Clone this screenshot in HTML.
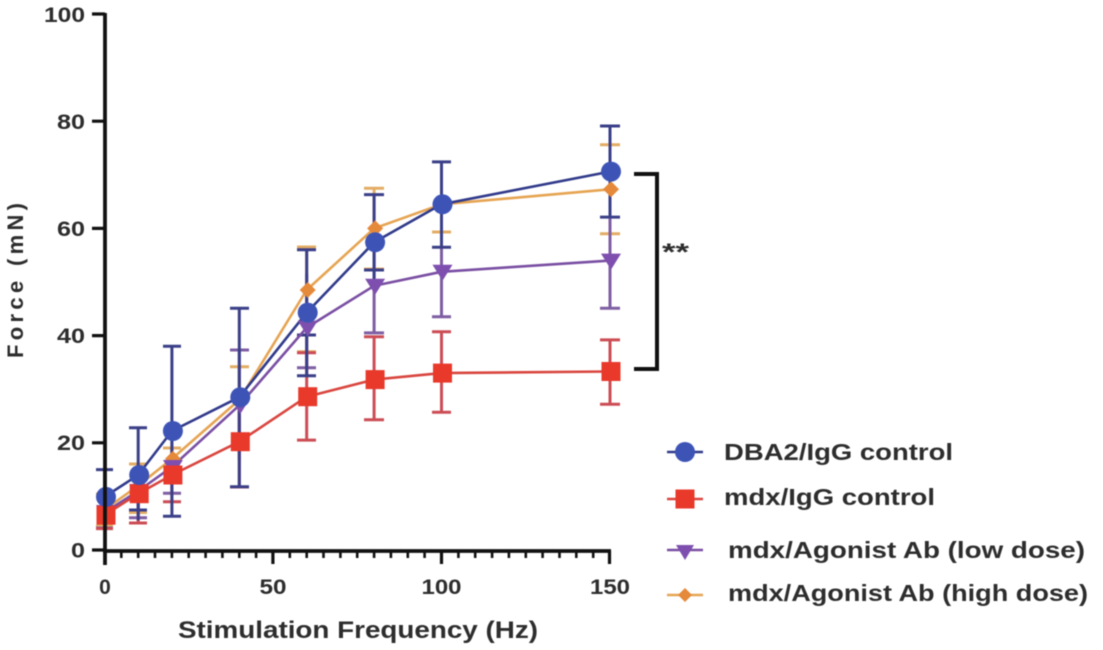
<!DOCTYPE html>
<html>
<head>
<meta charset="utf-8">
<style>
  html,body{margin:0;padding:0;background:#fff;}
  svg{display:block;filter:blur(0.5px);}
  text{font-family:"Liberation Sans",Arial,sans-serif;font-weight:bold;fill:#2d2d2d;}
</style>
</head>
<body>
<svg width="1103" height="650" viewBox="0 0 1103 650" xmlns="http://www.w3.org/2000/svg">
  <rect width="1103" height="650" fill="#fff"/>

  <!-- Error bars -->
  <g stroke-width="3" fill="none">
    <!-- Orange (high dose) -->
    <g stroke="#e3ad66">
      <path d="M104.5,494 V526 M96,494 H113 M96,526 H113"/>
      <path d="M138.2,464 V512.5 M129,464 H147 M129,512.5 H147"/>
      <path d="M171.9,448 V480 M163,448 H181"/>
      <path d="M239.3,366.7 V437 M230,366.7 H249"/>
      <path d="M306.7,247 V351.7 M297,247 H316 M297,351.7 H316"/>
      <path d="M374.1,188.2 V269 M364,188.2 H384 M364,269 H384"/>
      <path d="M441.5,164 V232 M432,232 H451"/>
      <path d="M610,144.8 V233.8 M600,144.8 H620 M600,233.8 H620"/>
    </g>
    <!-- Purple (low dose) -->
    <g stroke="#7d5ea3">
      <path d="M104.5,496 V528 M96,528 H113"/>
      <path d="M138.2,464 V517.8 M129,517.8 H147"/>
      <path d="M171.9,440 V493.2 M163,493.2 H181"/>
      <path d="M239.3,350 V460 M230,350 H249"/>
      <path d="M306.7,274 V367.8 M297,367.8 H316"/>
      <path d="M374.1,240 V332.9 M364,332.9 H384"/>
      <path d="M441.5,225.7 V316.8 M432,316.8 H451"/>
      <path d="M610,212.3 V308.3 M600,308.3 H620"/>
    </g>
    <!-- Red (mdx/IgG) -->
    <g stroke="#cc4d55">
      <path d="M104.5,501.8 V528.6 M96,528.6 H113"/>
      <path d="M138.2,466.9 V523 M129,523 H147"/>
      <path d="M171.9,448 V501.8 M163,501.8 H181"/>
      <path d="M239.3,400 V487 M230,487 H249"/>
      <path d="M306.7,352.8 V440.1 M297,352.8 H316 M297,440.1 H316"/>
      <path d="M374.1,336.7 V419.8 M364,336.7 H384 M364,419.8 H384"/>
      <path d="M441.5,331.8 V412.2 M432,331.8 H451 M432,412.2 H451"/>
      <path d="M610,339.9 V404.2 M600,339.9 H620 M600,404.2 H620"/>
    </g>
    <!-- Blue (DBA2) -->
    <g stroke="#3a3f88">
      <path d="M104.5,469.6 V523.2 M96,469.6 H113"/>
      <path d="M138.2,427.8 V520.5 M129,427.8 H147 M129,510 H147"/>
      <path d="M171.9,346.3 V516.2 M163,346.3 H181 M163,516.2 H181"/>
      <path d="M239.3,308.3 V486.8 M230,308.3 H249 M230,486.8 H249"/>
      <path d="M306.7,249.8 V375.8 M297,249.8 H316 M297,375.8 H316 M297,335 H316"/>
      <path d="M374.1,194.6 V290 M364,194.6 H384 M364,270 H384"/>
      <path d="M441.5,161.9 V247.2 M432,161.9 H451 M432,247.2 H451"/>
      <path d="M610,126 V217.1 M600,126 H620 M600,217.1 H620"/>
    </g>
  </g>

  <!-- Series lines -->
  <g fill="none" stroke-width="2.6" stroke-linejoin="round">
    <polyline stroke="#e6a452" points="104.5,509.8 138.2,485.7 171.9,458.9 239.3,399.9 306.7,290 374.1,228.4 441.5,204.3 610,189.3"/>
    <polyline stroke="#7a4fa3" points="104.5,512.5 138.2,491 171.9,466.9 239.3,405.3 306.7,327.6 374.1,285.8 441.5,271.8 610,260.6"/>
    <polyline stroke="#d9463f" points="104.5,515.2 138.2,493.7 171.9,475 239.3,441.7 306.7,396.7 374.1,379.6 441.5,373.1 610,371.5"/>
    <polyline stroke="#303a8a" points="104.5,496.9 138.2,475 171.9,431 239.3,397.2 306.7,312.6 374.1,242.3 441.5,204.3 610,171.6"/>
  </g>

  <!-- Markers: orange diamonds -->
  <g fill="#e5893a">
    <path d="M106,502 l8,8 l-8,8 l-8,-8z"/>
    <path d="M139.2,477.7 l8,8 l-8,8 l-8,-8z"/>
    <path d="M172.9,450.9 l8,8 l-8,8 l-8,-8z"/>
    <path d="M240.3,391.9 l8,8 l-8,8 l-8,-8z"/>
    <path d="M307.7,282 l8,8 l-8,8 l-8,-8z"/>
    <path d="M375.1,220.4 l8,8 l-8,8 l-8,-8z"/>
    <path d="M442.5,196.3 l8,8 l-8,8 l-8,-8z"/>
    <path d="M611,181.3 l8,8 l-8,8 l-8,-8z"/>
  </g>
  <!-- Purple triangles (down) -->
  <g fill="#7e4fae">
    <path d="M96,505 h20 l-10,16z"/>
    <path d="M129.2,484 h20 l-10,16z"/>
    <path d="M162.9,460 h20 l-10,16z"/>
    <path d="M230.3,398 h20 l-10,16z"/>
    <path d="M297.7,320.6 h20 l-10,16z"/>
    <path d="M365.1,278.8 h20 l-10,16z"/>
    <path d="M432.5,264.8 h20 l-10,16z"/>
    <path d="M601,253.6 h20 l-10,16z"/>
  </g>
  <!-- Red squares -->
  <g fill="#e8392a">
    <rect x="96.5" y="505.7" width="19" height="19"/>
    <rect x="129.7" y="484.2" width="19" height="19"/>
    <rect x="163.4" y="465.5" width="19" height="19"/>
    <rect x="230.8" y="432.2" width="19" height="19"/>
    <rect x="298.2" y="387.2" width="19" height="19"/>
    <rect x="365.6" y="370.1" width="19" height="19"/>
    <rect x="433" y="363.6" width="19" height="19"/>
    <rect x="601.5" y="362" width="19" height="19"/>
  </g>
  <!-- Blue circles -->
  <g fill="#3d54b6">
    <circle cx="106" cy="496.9" r="10"/>
    <circle cx="139.2" cy="475" r="10"/>
    <circle cx="172.9" cy="431" r="10"/>
    <circle cx="240.3" cy="397.2" r="10"/>
    <circle cx="307.7" cy="312.6" r="10"/>
    <circle cx="375.1" cy="242.3" r="10"/>
    <circle cx="442.5" cy="204.3" r="10"/>
    <circle cx="611" cy="171.6" r="10"/>
  </g>

  <!-- Axes -->
  <g stroke="#111" fill="none">
    <line x1="105" y1="13" x2="105" y2="565" stroke-width="3.8"/>
    <line x1="103" y1="551" x2="611" y2="551" stroke-width="3.8"/>
    <path stroke-width="3.2" d="M92,14 H105 M92,121.2 H105 M92,228.4 H105 M92,335.6 H105 M92,442.8 H105 M92,550 H105"/>
    <path stroke-width="3.2" d="M272.9,551 V564 M441.5,551 V564 M609.5,551 V564"/>
    <path stroke-width="2.6" d="M121.3,551 V558 M138.2,551 V558 M155,551 V558 M171.9,551 V558 M188.7,551 V558 M205.6,551 V558 M222.4,551 V558 M239.3,551 V558 M256.1,551 V558
      M289.8,551 V558 M306.7,551 V558 M323.5,551 V558 M340.4,551 V558 M357.2,551 V558 M374.1,551 V558 M390.9,551 V558 M407.8,551 V558 M424.6,551 V558
      M458.4,551 V558 M475.2,551 V558 M492.1,551 V558 M508.9,551 V558 M525.8,551 V558 M542.6,551 V558 M559.5,551 V558 M576.3,551 V558 M593.2,551 V558"/>
  </g>

  <!-- Y tick labels -->
  <g font-size="21" text-anchor="end">
    <text x="85" y="22" textLength="41" lengthAdjust="spacingAndGlyphs">100</text>
    <text x="85" y="129" textLength="28" lengthAdjust="spacingAndGlyphs">80</text>
    <text x="85" y="236" textLength="28" lengthAdjust="spacingAndGlyphs">60</text>
    <text x="85" y="343" textLength="28" lengthAdjust="spacingAndGlyphs">40</text>
    <text x="85" y="450" textLength="28" lengthAdjust="spacingAndGlyphs">20</text>
    <text x="85" y="557.5" textLength="14" lengthAdjust="spacingAndGlyphs">0</text>
  </g>
  <!-- X tick labels -->
  <g font-size="21" text-anchor="middle">
    <text x="105" y="594">0</text>
    <text x="273" y="594" textLength="27" lengthAdjust="spacingAndGlyphs">50</text>
    <text x="441.5" y="594" textLength="40" lengthAdjust="spacingAndGlyphs">100</text>
    <text x="610" y="594" textLength="40" lengthAdjust="spacingAndGlyphs">150</text>
  </g>

  <!-- Axis titles -->
  <text x="178" y="638" font-size="24" textLength="360" lengthAdjust="spacingAndGlyphs">Stimulation Frequency (Hz)</text>
  <text transform="translate(23,358) rotate(-90)" x="0" y="0" font-size="22" textLength="155" lengthAdjust="spacing">Force  (mN)</text>

  <!-- Significance bracket -->
  <path d="M634,174 H657 V369 H634" fill="none" stroke="#111" stroke-width="4"/>
  <text x="662" y="260" font-size="24" textLength="27" lengthAdjust="spacingAndGlyphs">**</text>

  <!-- Legend -->
  <g stroke-width="2.6">
    <line x1="667" y1="452" x2="703" y2="452" stroke="#303a8a"/>
    <circle cx="685" cy="452" r="10" fill="#3d54b6" stroke="none"/>
    <line x1="667" y1="499" x2="703" y2="499" stroke="#d9463f"/>
    <rect x="675.5" y="489.5" width="19" height="19" fill="#e8392a" stroke="none"/>
    <line x1="667" y1="550" x2="703" y2="550" stroke="#7a4fa3"/>
    <path d="M676,545 h18 l-9,15z" fill="#7e4fae" stroke="none"/>
    <line x1="667" y1="595" x2="703" y2="595" stroke="#e6a452"/>
    <path d="M685,588 l7,7 l-7,7 l-7,-7z" fill="#e5893a" stroke="none"/>
  </g>
  <g font-size="23">
    <text x="724" y="460" textLength="229" lengthAdjust="spacingAndGlyphs">DBA2/IgG control</text>
    <text x="724" y="505" textLength="211" lengthAdjust="spacingAndGlyphs">mdx/IgG control</text>
    <text x="728" y="558" textLength="357" lengthAdjust="spacingAndGlyphs">mdx/Agonist Ab (low dose)</text>
    <text x="728" y="601" textLength="360" lengthAdjust="spacingAndGlyphs">mdx/Agonist Ab (high dose)</text>
  </g>
</svg>
</body>
</html>
